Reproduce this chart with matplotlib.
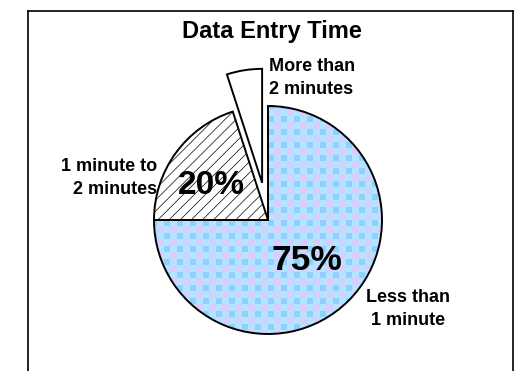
import matplotlib
matplotlib.use('Agg')
import matplotlib.pyplot as plt
import numpy as np

plt.rcParams['font.family'] = ['Liberation Sans', 'DejaVu Sans']
plt.rcParams['hatch.linewidth'] = 0.5

# data
categories = ['Less than\n1 minute', '1 minute to\n2 minutes', 'More than\n2 minutes']
shares = [75, 20, 5]
pct_labels = ['75%', '20%', None]
explode = [0, 0, 0.33]

W, H = 514, 371
CX, CY, R = 268, 220, 114   # pie centre and radius in pixels


def px(x, y):
    # pixel (from top-left) -> data coords of the pie axes
    return (x - CX) / R, (CY - y) / R


fig = plt.figure(figsize=(W / 100, H / 100), dpi=100)
ax = fig.add_axes([0, 0, 1, 1])

wedges, _ = ax.pie(shares, startangle=90, counterclock=False, explode=explode,
                   wedgeprops=dict(edgecolor='black', linewidth=1.4))

# less than 1 minute: gingham fill clipped to the wedge
wedges[0].set_facecolor('none')
n = 48
i, j = np.indices((n, n))
tex = np.zeros((n, n, 3))
tex[:] = (0.70, 0.90, 1.0)
tex[(i % 2 == 0) & (j % 2 == 0)] = (0.58, 0.81, 1.0)
tex[(i % 2 == 1) & (j % 2 == 1)] = (0.84, 0.81, 1.0)
cell = 6.5 / R
img = ax.imshow(tex, extent=(-n * cell / 2, n * cell / 2, -n * cell / 2, n * cell / 2),
                interpolation='nearest', zorder=0.5)
img.set_clip_path(wedges[0])

# 1 to 2 minutes: white with diagonal hatch
wedges[1].set_facecolor('white')
wedges[1].set_hatch('///')
wedges[2].set_facecolor('white')

ax.set_xlim(px(0, 0)[0], px(W, 0)[0])
ax.set_ylim(px(0, H)[1], px(0, 0)[1])
ax.axis('off')

# percentage labels
ax.text(*px(307, 260), pct_labels[0], ha='center', va='center', fontsize=25.5, fontweight='bold')
ax.text(*px(211, 185), pct_labels[1], ha='center', va='center', fontsize=24, fontweight='bold')

# category labels
lab = dict(fontsize=13, fontweight='bold', linespacing=1.4, va='center')
ax.text(*px(408, 309), categories[0], ha='center', **lab)
ax.text(*px(157, 178), categories[1], ha='right', **lab)
ax.text(*px(269, 78), categories[2], ha='left', **lab)

# title
ax.text(*px(272, 31), 'Data Entry Time', ha='center', va='center', fontsize=17, fontweight='bold')

# frame around the chart area
fig.add_artist(plt.Line2D([27.5 / W, 27.5 / W], [0, 1 - 10.5 / H], color='black', lw=1.2))
fig.add_artist(plt.Line2D([27.5 / W, 512.5 / W], [1 - 10.5 / H, 1 - 10.5 / H], color='black', lw=1.2))
fig.add_artist(plt.Line2D([512.5 / W, 512.5 / W], [0, 1 - 10.5 / H], color='black', lw=1.2))

plt.savefig('out.png', dpi=100, facecolor='white')
plt.close()
